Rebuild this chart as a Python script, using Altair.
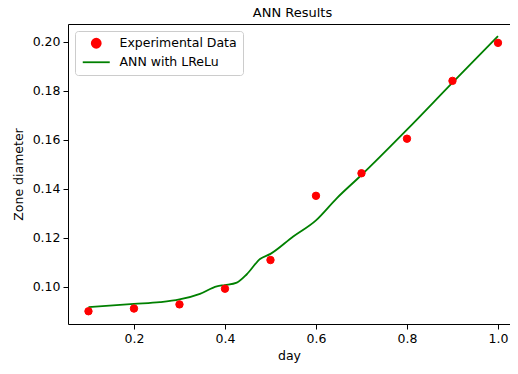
import altair as alt
import pandas as pd

# Experimental data
exp_day = [0.1, 0.2, 0.3, 0.4, 0.5, 0.6, 0.7, 0.8, 0.9, 1.0]
exp_diam = [0.0901, 0.0912, 0.0929, 0.0993, 0.1110, 0.1372, 0.1464, 0.1605, 0.1841, 0.1996]

# ANN curve
ann_day = [0.1, 0.2, 0.257, 0.3, 0.345, 0.382, 0.4, 0.426, 0.448, 0.477, 0.5,
           0.55, 0.6, 0.645, 0.7, 0.8, 0.9, 1.0]
ann_diam = [0.0918, 0.0931, 0.0938, 0.0949, 0.0972, 0.1003, 0.1008, 0.1018, 0.1052,
            0.1114, 0.1135, 0.1206, 0.1272, 0.1361, 0.1457, 0.1642, 0.1834, 0.2024]

series_names = ["Experimental Data", "ANN with LReLu"]
series_colors = ["#ff0000", "#008000"]

x_ticks = [0.2, 0.4, 0.6, 0.8, 1.0]
y_ticks = [0.10, 0.12, 0.14, 0.16, 0.18, 0.20]

exp_df = pd.DataFrame({"day": exp_day, "diam": exp_diam, "series": series_names[0]})
ann_df = pd.DataFrame({"day": ann_day, "diam": ann_diam, "series": series_names[1]})

FONT = "DejaVu Sans"

xscale = alt.Scale(domain=[0.055, 1.0264], nice=False, zero=False)
yscale = alt.Scale(domain=[0.0849, 0.2073], nice=False, zero=False)

xaxis = alt.Axis(values=x_ticks, format=".1f", title="day", grid=False)
yaxis = alt.Axis(values=y_ticks, format=".2f", title="Zone diameter", grid=False)

legend = alt.Legend(
    title=None, orient="none", legendX=7, legendY=7,
    fillColor="white", strokeColor="#cccccc", cornerRadius=3, padding=6,
    labelFont=FONT, labelFontSize=12.5, labelColor="black",
    symbolSize=81, symbolStrokeWidth=1.8, symbolOffset=9, labelOffset=17,
    rowPadding=4,
)
fill_scale = alt.Scale(domain=series_names, range=series_colors)
stroke_scale = alt.Scale(domain=series_names, range=series_colors)
shape_scale = alt.Scale(domain=series_names, range=["circle", "M-3,0H3"])

points = alt.Chart(exp_df).mark_point(filled=True, size=55, opacity=1, strokeWidth=1).encode(
    x=alt.X("day:Q", scale=xscale, axis=xaxis),
    y=alt.Y("diam:Q", scale=yscale, axis=yaxis),
    fill=alt.Fill("series:N", scale=fill_scale, legend=legend),
    stroke=alt.Stroke("series:N", scale=stroke_scale, legend=legend),
    shape=alt.Shape("series:N", scale=shape_scale, legend=legend),
)

line = alt.Chart(ann_df).mark_line(strokeWidth=1.8, interpolate="monotone").encode(
    x=alt.X("day:Q", scale=xscale, axis=None),
    y=alt.Y("diam:Q", scale=yscale, axis=yaxis),
    stroke=alt.Stroke("series:N", scale=stroke_scale, legend=legend),
)

top_spine = alt.Chart(ann_df).mark_line(opacity=0).encode(
    x=alt.X("day:Q", scale=xscale,
            axis=alt.Axis(orient="top", labels=False, ticks=False, title=None,
                          grid=False, domainColor="black", domainWidth=1)),
    y=alt.Y("diam:Q", scale=yscale),
)

chart = alt.layer(top_spine, line, points).resolve_axis(x="independent").properties(
    width=442, height=300,
    title=alt.TitleParams("ANN Results", font=FONT, fontSize=13, fontWeight="normal",
                          color="black", anchor="middle", offset=4, dx=3.5),
    autosize=alt.AutoSizeParams(type="none"),
    padding={"left": 60, "top": 16, "right": 0, "bottom": 42},
).configure_view(stroke=None).configure_axis(
    labelFont=FONT, labelFontSize=12.5, labelColor="black",
    titleFont=FONT, titleFontSize=12.5, titleColor="black", titleFontWeight="normal",
    domainColor="black", domainWidth=1, tickColor="black", tickSize=5, tickWidth=1,
    labelPadding=3,
).configure_axisX(titlePadding=5).configure_axisY(titlePadding=7)

chart.save("out.html", embed_options={"renderer": "svg", "actions": False})
